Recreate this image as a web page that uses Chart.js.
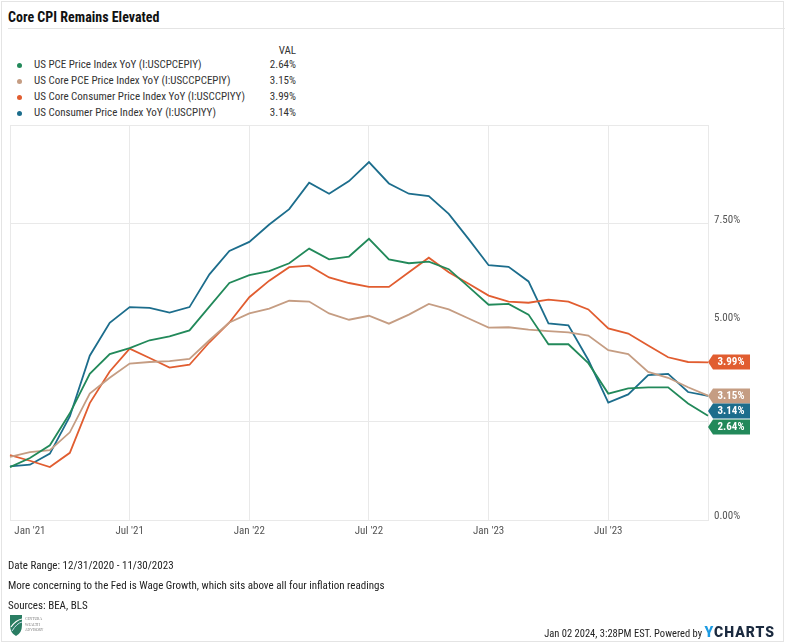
<!DOCTYPE html>
<html>
<head>
<meta charset="utf-8">
<script src="https://cdn.jsdelivr.net/npm/chart.js@4.4.1/dist/chart.umd.min.js"></script>
<style>
  body { margin: 0; background: #fff; font-family: 'Liberation Sans Narrow', 'Roboto Condensed', Roboto, sans-serif; color: #222; }
  #card { position: absolute; left: 1px; top: 1px; width: 781px; height: 639px; border: 1px solid #e4e4e4; }
  .t { position: absolute; white-space: nowrap; }
  #titulo { left: 8px; top: 9px; font-size: 14px; font-weight: bold; color: #111; }
  #raya { position: absolute; left: 8px; right: 0; top: 28px; height: 1px; background: #e4e4e4; }
  .fila { position: absolute; left: 0; font-size: 11px; color: #333; height: 14px; line-height: 14px; }
  .punto { position: absolute; left: 17px; top: 5px; width: 5px; height: 5px; border-radius: 50%; }
  .nombre { position: absolute; left: 34px; white-space: nowrap; }
  .valor { position: absolute; left: 250px; width: 46px; text-align: right; }
  #grafico { position: absolute; left: 0; top: 0; }
  .pie { left: 8px; font-size: 11px; color: #222; }
</style>
</head>
<body>
<div id="card"></div>
<div class="t" id="titulo">Core CPI Remains Elevated</div>
<div id="raya"></div>
<div id="leyenda"></div>
<canvas id="grafico" width="785" height="643"></canvas>
<div class="t pie" style="top:559px">Date Range: 12/31/2020 - 11/30/2023</div>
<div class="t pie" style="top:579px">More concerning to the Fed is Wage Growth, which sits above all four inflation readings</div>
<div class="t pie" style="top:599px">Sources: BEA, BLS</div>
<svg class="t" style="left:9px;top:613px" width="40" height="24" viewBox="0 0 40 24">
  <path d="M1 2 L13 2 L13 12 Q13 20 7 23 Q1 20 1 12 Z" fill="#2a7d63"/>
  <path d="M2 14 Q7 7 13 6" stroke="#fff" stroke-width="1.2" fill="none"/>
  <path d="M3 18 Q8 10 13 9" stroke="#cde" stroke-width="1" fill="none"/>
  <text x="16" y="7" font-size="3.6" fill="#777" font-family="serif">CENTURA</text>
  <text x="16" y="12.5" font-size="3.6" fill="#777" font-family="serif">WEALTH</text>
  <text x="16" y="18" font-size="3.6" fill="#777" font-family="serif">ADVISORY</text>
</svg>
<div class="t" style="right:10px;top:624px;font-size:10.5px;color:#222">Jan 02 2024, 3:28PM EST. Powered by <span style="font-family:Roboto,sans-serif;font-weight:900;font-size:14px;letter-spacing:1px;color:#1b2a3f"><span style="color:#1d9be2">Y</span>CHARTS</span></div>
<script>
// meses (fin de mes) de 12/2020 a 11/2023
const meses = ["Dec 2020", "Jan 2021", "Feb 2021", "Mar 2021", "Apr 2021", "May 2021", "Jun 2021", "Jul 2021", "Aug 2021", "Sep 2021", "Oct 2021", "Nov 2021",
  "Dec 2021", "Jan 2022", "Feb 2022", "Mar 2022", "Apr 2022", "May 2022", "Jun 2022", "Jul 2022", "Aug 2022", "Sep 2022", "Oct 2022", "Nov 2022",
  "Dec 2022", "Jan 2023", "Feb 2023", "Mar 2023", "Apr 2023", "May 2023", "Jun 2023", "Jul 2023", "Aug 2023", "Sep 2023", "Oct 2023", "Nov 2023"];

// series
const pce = [1.34, 1.57, 1.89, 2.7, 3.7, 4.2, 4.35, 4.55, 4.65, 4.8, 5.4, 6.0,
  6.2, 6.3, 6.5, 6.87, 6.6, 6.67, 7.12, 6.6, 6.5, 6.54, 6.35, 5.9,
  5.45, 5.47, 5.2, 4.45, 4.45, 3.97, 3.2, 3.33, 3.36, 3.36, 2.95, 2.64];
const corePce = [1.6, 1.72, 1.77, 2.22, 3.2, 3.6, 3.96, 4.0, 4.02, 4.08, 4.55, 5.0,
  5.23, 5.35, 5.55, 5.53, 5.23, 5.07, 5.17, 4.97, 5.2, 5.47, 5.33, 5.1,
  4.87, 4.88, 4.82, 4.78, 4.75, 4.67, 4.3, 4.2, 3.75, 3.6, 3.36, 3.15];
const coreCpi = [1.64, 1.5, 1.34, 1.7, 2.96, 3.76, 4.34, 4.1, 3.86, 3.93, 4.5, 5.0,
  5.64, 6.06, 6.4, 6.44, 6.14, 6.0, 5.9, 5.9, 6.27, 6.64, 6.27, 5.98,
  5.68, 5.53, 5.5, 5.58, 5.53, 5.33, 4.85, 4.72, 4.42, 4.12, 4.0, 3.99];
const cpi = [1.36, 1.4, 1.68, 2.62, 4.16, 4.99, 5.39, 5.37, 5.25, 5.39, 6.22, 6.81,
  7.04, 7.48, 7.87, 8.54, 8.26, 8.58, 9.06, 8.52, 8.26, 8.2, 7.75, 7.11,
  6.45, 6.41, 6.04, 4.98, 4.93, 4.05, 2.97, 3.18, 3.67, 3.7, 3.24, 3.14];

const nombres = ["US PCE Price Index YoY (I:USCPCEPIY)", "US Core PCE Price Index YoY (I:USCCPCEPIY)",
  "US Core Consumer Price Index YoY (I:USCCPIYY)", "US Consumer Price Index YoY (I:USCPIYY)"];
const colores = ["#22895a", "#c59d83", "#e15d30", "#1c6d8c"];
const series = [pce, corePce, coreCpi, cpi];

// etiquetas del eje x (indice del mes -> texto)
const etiquetasX = {1: "Jan '21", 6: "Jul '21", 12: "Jan '22", 18: "Jul '22", 24: "Jan '23", 30: "Jul '23"};
const ticksX = [0, 1, 6, 12, 18, 24, 30, 35];
const ticksY = [0, 2.5, 5, 7.5, 10];

// leyenda con valores
let html = '<div class="fila" style="top:44px"><span class="valor">VAL</span></div>';
series.forEach((s, i) => {
  html += '<div class="fila" style="top:' + (58 + i * 16) + 'px"><span class="punto" style="background:' + colores[i] + '"></span>' +
    '<span class="nombre">' + nombres[i] + '</span><span class="valor">' + s[s.length - 1].toFixed(2) + '%</span></div>';
});
document.getElementById('leyenda').innerHTML = html;

Chart.defaults.font.family = "'Liberation Sans Narrow', 'Roboto Condensed', Roboto, sans-serif";

const etiquetasFinales = {
  id: 'etiquetasFinales',
  afterDatasetsDraw(chart) {
    const ctx = chart.ctx;
    const x0 = chart.chartArea.right;
    const yS = chart.scales.y;
    const items = chart.data.datasets.map((d, i) => ({
      y: yS.getPixelForValue(d.data[d.data.length - 1]),
      color: colores[i],
      text: d.data[d.data.length - 1].toFixed(2) + '%'
    })).sort((a, b) => a.y - b.y);
    for (let i = 1; i < items.length; i++) {
      if (items[i].y < items[i - 1].y + 15.5) items[i].y = items[i - 1].y + 15.5;
    }
    ctx.save();
    items.forEach(it => {
      const y = Math.round(it.y);
      ctx.beginPath();
      ctx.moveTo(x0, y);
      ctx.lineTo(x0 + 5, y - 7.5);
      ctx.lineTo(x0 + 42, y - 7.5);
      ctx.lineTo(x0 + 42, y + 7.5);
      ctx.lineTo(x0 + 5, y + 7.5);
      ctx.closePath();
      ctx.fillStyle = it.color;
      ctx.fill();
      ctx.fillStyle = '#fff';
      ctx.font = "bold 11px 'Liberation Sans Narrow', 'Roboto Condensed', Roboto, sans-serif";
      ctx.textAlign = 'center';
      ctx.textBaseline = 'middle';
      ctx.fillText(it.text, x0 + 23, y + 0.5);
    });
    ctx.restore();
  }
};

myChart = new Chart("grafico", {
  type: "line",
  data: {
    labels: meses,
    datasets: series.map((s, i) => ({
      label: nombres[i],
      data: s,
      borderColor: colores[i],
      backgroundColor: colores[i],
      borderWidth: 1.8,
      pointRadius: 0,
      tension: 0
    }))
  },
  options: {
    responsive: false,
    animation: false,
    layout: {padding: {left: 10, top: 125, right: 0, bottom: 100}},
    plugins: {legend: {display: false}, tooltip: {enabled: false}},
    scales: {
      x: {
        afterBuildTicks: (s) => { s.ticks = ticksX.map(v => ({value: v})); },
        afterFit: (s) => { s.height = 23; },
        ticks: {
          autoSkip: false, maxRotation: 0, padding: 5,
          color: '#555', font: {size: 11},
          callback: (v) => etiquetasX[v] || ''
        },
        grid: {
          drawTicks: false,
          color: (c) => (c.tick && c.tick.value === 1) ? 'rgba(0,0,0,0)' : '#e9e9e9'
        },
        border: {color: '#e9e9e9'}
      },
      y: {
        position: 'right',
        min: 0, max: 10,
        afterBuildTicks: (s) => { s.ticks = ticksY.map(v => ({value: v})); },
        afterFit: (s) => { s.width = 77; },
        ticks: {
          padding: 6, labelOffset: -4, crossAlign: 'near',
          color: '#555', font: {size: 11},
          callback: (v) => (v === 0 || v === 5 || v === 7.5) ? v.toFixed(2) + '%' : ''
        },
        grid: {
          drawTicks: false,
          color: (c) => (c.tick && c.tick.value === 5) ? 'rgba(0,0,0,0)' : '#e9e9e9'
        },
        border: {color: '#e9e9e9'}
      }
    }
  },
  plugins: [etiquetasFinales]
});
</script>
</body>
</html>
